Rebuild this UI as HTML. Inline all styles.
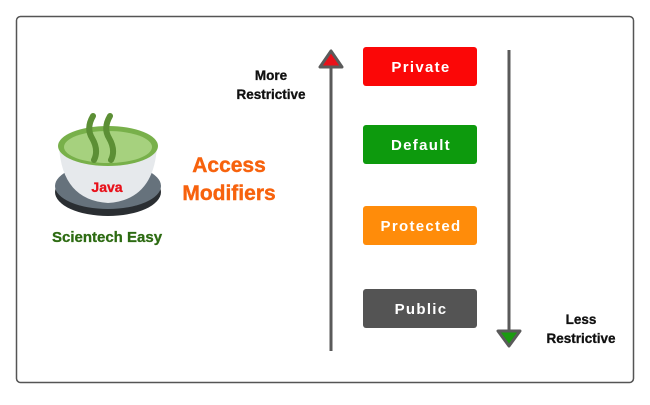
<!DOCTYPE html>
<html><head><style>
body{margin:0;background:#fff;}
svg text{font-family:"Liberation Sans",Arial,sans-serif;font-weight:bold;}
</style></head><body>
<svg width="650" height="400" viewBox="0 0 650 400" xmlns="http://www.w3.org/2000/svg">
<rect x="16.5" y="16.5" width="617" height="366" rx="4" fill="#fff" stroke="#555" stroke-width="1.5"/>
<!-- cup -->
<ellipse cx="108" cy="192" rx="53" ry="24" fill="#2a2e32"/>
<ellipse cx="108" cy="186" rx="53" ry="23" fill="#66727c"/>
<path d="M59 146 Q62 200 108 203 Q154 200 157 146 Z" fill="#e6e9ec"/>
<ellipse cx="108" cy="146" rx="50" ry="20" fill="#78b04a"/>
<ellipse cx="108" cy="147" rx="44" ry="16" fill="#a6d17e"/>
<path d="M93 116 Q86 128 92 138 Q99 150 94 160" fill="none" stroke="#5c8f35" stroke-width="6" stroke-linecap="round"/>
<path d="M110 116 Q103 128 109 138 Q116 150 111 160" fill="none" stroke="#5c8f35" stroke-width="6" stroke-linecap="round"/>
<text x="107" y="192" font-size="14" fill="#e8111a" text-anchor="middle" stroke="#e8111a" stroke-width="0.3">Java</text>
<text x="107" y="242" font-size="15" fill="#2d6b12" text-anchor="middle" stroke="#2d6b12" stroke-width="0.3">Scientech Easy</text>
<text x="229" y="172" font-size="21" fill="#f7620d" text-anchor="middle" stroke="#f7620d" stroke-width="0.4">Access</text>
<text x="229" y="200" font-size="21" fill="#f7620d" text-anchor="middle" stroke="#f7620d" stroke-width="0.4">Modifiers</text>
<!-- arrows -->
<line x1="331" y1="60" x2="331" y2="351" stroke="#5a5a5a" stroke-width="3"/>
<polygon points="331,51 320,67 342,67" fill="#e8111a" stroke="#5a5a5a" stroke-width="3" stroke-linejoin="round"/>
<line x1="509" y1="50" x2="509" y2="336" stroke="#5a5a5a" stroke-width="3"/>
<polygon points="509,346 498,331 520,331" fill="#1a9a10" stroke="#5a5a5a" stroke-width="3" stroke-linejoin="round"/>
<text x="271" y="80" font-size="13.5" fill="#111" text-anchor="middle" stroke="#111" stroke-width="0.3">More</text>
<text x="271" y="99" font-size="13.5" fill="#111" text-anchor="middle" stroke="#111" stroke-width="0.3">Restrictive</text>
<text x="581" y="324" font-size="13.5" fill="#111" text-anchor="middle" stroke="#111" stroke-width="0.3">Less</text>
<text x="581" y="343" font-size="13.5" fill="#111" text-anchor="middle" stroke="#111" stroke-width="0.3">Restrictive</text>
<!-- boxes -->
<rect x="363" y="47" width="114" height="39" rx="3" fill="#fb0707"/>
<text x="421" y="72" font-size="15" fill="#fff" text-anchor="middle" letter-spacing="1.3">Private</text>
<rect x="363" y="125" width="114" height="39" rx="3" fill="#0d9a0d"/>
<text x="421" y="150" font-size="15" fill="#fff" text-anchor="middle" letter-spacing="1.3">Default</text>
<rect x="363" y="206" width="114" height="39" rx="3" fill="#ff8c0a"/>
<text x="421" y="231" font-size="15" fill="#fff" text-anchor="middle" letter-spacing="1.3">Protected</text>
<rect x="363" y="289" width="114" height="39" rx="3" fill="#545454"/>
<text x="421" y="314" font-size="15" fill="#fff" text-anchor="middle" letter-spacing="1.3">Public</text>
</svg>
</body></html>
